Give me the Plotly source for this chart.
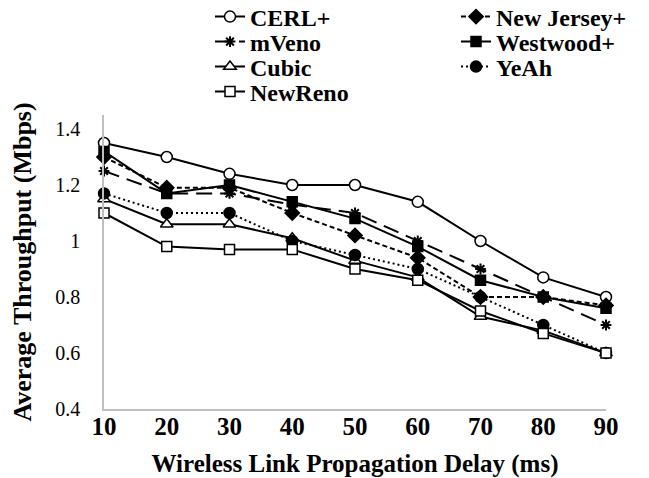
import plotly.graph_objects as go

# Wireless link propagation delay (ms)
delay = [10, 20, 30, 40, 50, 60, 70, 80, 90]

# Average throughput (Mbps) per TCP variant
cerl_plus = [1.35, 1.30, 1.24, 1.20, 1.20, 1.14, 1.00, 0.87, 0.80]
new_jersey_plus = [1.30, 1.19, 1.19, 1.10, 1.02, 0.94, 0.80, 0.80, 0.77]
mveno = [1.25, 1.17, 1.17, 1.13, 1.10, 1.00, 0.90, 0.80, 0.70]
westwood_plus = [1.32, 1.17, 1.20, 1.14, 1.08, 0.98, 0.86, 0.80, 0.76]
cubic = [1.15, 1.06, 1.06, 1.01, 0.93, 0.87, 0.73, 0.68, 0.60]
yeah = [1.17, 1.10, 1.10, 1.00, 0.95, 0.90, 0.80, 0.70, 0.60]
newreno = [1.10, 0.98, 0.97, 0.97, 0.90, 0.86, 0.75, 0.67, 0.60]

y_ticks = [0.4, 0.6, 0.8, 1.0, 1.2, 1.4]
y_tick_labels = ["0.4", "0.6", "0.8", "1", "1.2", "1.4"]

W, H = 649, 478
M = dict(l=104, r=43, t=115, b=69, autoexpand=False)
SERIF = "Liberation Serif"


def paper_x(px):
    return (px - M["l"]) / (W - M["l"] - M["r"])


def paper_y(py):
    return (H - M["b"] - py) / (H - M["t"] - M["b"])


# name, values, marker symbol, marker fill, dash, legend column/row, marker size
styles = [
    ("CERL+", cerl_plus, "circle", "white", "solid", 0, 0, 11),
    ("New Jersey+", new_jersey_plus, "diamond", "black", "5px,3px", 1, 0, 11),
    ("mVeno", mveno, "asterisk-open", "black", "16px,8px", 0, 1, 9),
    ("Westwood+", westwood_plus, "square", "black", "solid", 1, 1, 10),
    ("Cubic", cubic, "triangle-up", "white", "solid", 0, 2, 11),
    ("YeAh", yeah, "circle", "black", "2px,3px", 1, 2, 11),
    ("NewReno", newreno, "square", "white", "solid", 0, 3, 10),
]

# legend block placement in pixels
col_left = [210, 456]
row_y = [17, 42, 67, 92]

fig = go.Figure()
layout_legends = {}
for i, (name, vals, sym, fill, dash, col, row, size) in enumerate(styles):
    key = "legend" if i == 0 else f"legend{i + 1}"
    fig.add_trace(go.Scatter(
        x=delay, y=vals, name=name, mode="lines+markers",
        line=dict(color="black", width=2, dash=dash),
        marker=dict(symbol=sym, size=size, color=fill,
                    line=dict(color="black", width=2 if "asterisk" in sym else 1.5)),
        cliponaxis=False, legend=key,
    ))
    layout_legends[key] = dict(
        x=paper_x(col_left[col]), y=paper_y(row_y[row]),
        xanchor="left", yanchor="middle",
        font=dict(family=SERIF, size=24, color="black", weight="bold"),
        bgcolor="rgba(0,0,0,0)", borderwidth=0,
    )

fig.update_layout(
    width=W, height=H, margin=M,
    paper_bgcolor="white", plot_bgcolor="white",
    showlegend=True,
    **layout_legends,
)

fig.update_xaxes(
    range=[10, 90], tickvals=delay, ticks="", tickangle=0,
    showline=True, linecolor="#bfbfbf", linewidth=1.5, showgrid=False, zeroline=False,
    tickfont=dict(family=SERIF, size=25, color="black", weight="bold"),
    ticklabelstandoff=-6,
    title=dict(text="Wireless Link Propagation Delay (ms)", standoff=26,
               font=dict(family=SERIF, size=25, color="black", weight="bold")),
    automargin=False,
)
fig.update_yaxes(
    range=[0.4, 1.45], tickvals=y_ticks, ticktext=y_tick_labels, ticks="",
    showline=True, linecolor="#bfbfbf", linewidth=1.5, showgrid=False, zeroline=False,
    tickfont=dict(family=SERIF, size=20, color="black"),
    ticklabelstandoff=18,
    title=dict(text="Average Throughput (Mbps)", standoff=16,
               font=dict(family=SERIF, size=26, color="black", weight="bold")),
    automargin=False,
)

fig.write_html("out.html")
